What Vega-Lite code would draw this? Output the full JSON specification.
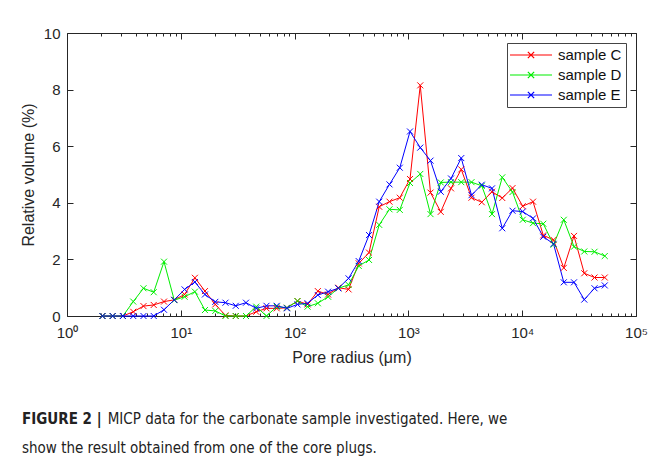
{
  "$schema": "https://vega.github.io/schema/vega-lite/v6.json",
  "width": 569,
  "height": 283,
  "autosize": {"type": "none"},
  "padding": {"left": 67, "top": 33, "right": 18, "bottom": 145},
  "background": "white",
  "config": {
    "view": {"stroke": "#262626", "strokeWidth": 1},
    "font": "Liberation Sans",
    "axis": {
      "domain": false, "grid": false,
      "tickColor": "#262626", "labelColor": "#262626", "titleColor": "#262626",
      "labelFont": "Liberation Sans", "titleFont": "Liberation Sans",
      "labelFontSize": 15, "titleFontSize": 16, "titleFontWeight": "normal"
    }
  },
  "title": {
    "text": "FIGURE 2 |",
    "subtitle": ["\u200b\u00a0\u00a0\u00a0\u00a0\u00a0\u00a0\u00a0\u00a0\u00a0\u00a0\u00a0\u00a0\u00a0\u00a0\u00a0\u00a0\u00a0\u00a0\u00a0\u00a0MICP data for the carbonate sample investigated. Here, we", "show the result obtained from one of the core plugs."],
    "orient": "bottom",
    "anchor": "start",
    "frame": "group",
    "dx": -45,
    "offset": 47,
    "font": "DejaVu Sans Condensed, sans-serif",
    "fontSize": 15,
    "fontWeight": "bold",
    "color": "#222222",
    "subtitleFont": "DejaVu Sans Condensed, sans-serif",
    "subtitleFontSize": 15,
    "subtitleFontWeight": "normal",
    "subtitleColor": "#222222",
    "subtitlePadding": -15,
    "subtitleLineHeight": 29
  },
  "datasets": {
    "micp": [
      {"r":2.05,"v":0,"s":"sample C"},{"r":2.52,"v":0,"s":"sample C"},{"r":3.10,"v":0,"s":"sample C"},{"r":3.82,"v":0.15,"s":"sample C"},{"r":4.70,"v":0.35,"s":"sample C"},
      {"r":5.78,"v":0.39,"s":"sample C"},{"r":7.12,"v":0.51,"s":"sample C"},{"r":8.76,"v":0.57,"s":"sample C"},{"r":10.8,"v":0.76,"s":"sample C"},{"r":13.3,"v":1.35,"s":"sample C"},
      {"r":16.3,"v":0.88,"s":"sample C"},{"r":20.1,"v":0.41,"s":"sample C"},{"r":24.7,"v":0.02,"s":"sample C"},{"r":30.4,"v":0,"s":"sample C"},{"r":37.4,"v":0,"s":"sample C"},
      {"r":46.0,"v":0.15,"s":"sample C"},{"r":56.6,"v":0.27,"s":"sample C"},{"r":69.7,"v":0.27,"s":"sample C"},{"r":85.7,"v":0.29,"s":"sample C"},{"r":106,"v":0.53,"s":"sample C"},
      {"r":130,"v":0.41,"s":"sample C"},{"r":160,"v":0.88,"s":"sample C"},{"r":197,"v":0.76,"s":"sample C"},{"r":242,"v":1.0,"s":"sample C"},{"r":298,"v":0.94,"s":"sample C"},
      {"r":366,"v":1.86,"s":"sample C"},{"r":451,"v":2.24,"s":"sample C"},{"r":554,"v":3.86,"s":"sample C"},{"r":682,"v":4.04,"s":"sample C"},{"r":840,"v":4.18,"s":"sample C"},
      {"r":1033,"v":4.84,"s":"sample C"},{"r":1271,"v":8.15,"s":"sample C"},{"r":1564,"v":4.36,"s":"sample C"},{"r":1924,"v":3.68,"s":"sample C"},{"r":2368,"v":4.51,"s":"sample C"},
      {"r":2914,"v":5.18,"s":"sample C"},{"r":3585,"v":4.18,"s":"sample C"},{"r":4412,"v":4.02,"s":"sample C"},{"r":5429,"v":4.39,"s":"sample C"},{"r":6680,"v":4.17,"s":"sample C"},
      {"r":8220,"v":4.52,"s":"sample C"},{"r":10110,"v":3.88,"s":"sample C"},{"r":12450,"v":4.04,"s":"sample C"},{"r":15320,"v":2.85,"s":"sample C"},{"r":18850,"v":2.69,"s":"sample C"},
      {"r":23190,"v":1.7,"s":"sample C"},{"r":28530,"v":2.83,"s":"sample C"},{"r":35110,"v":1.51,"s":"sample C"},{"r":43200,"v":1.36,"s":"sample C"},{"r":53170,"v":1.36,"s":"sample C"},

      {"r":2.05,"v":0,"s":"sample D"},{"r":2.52,"v":0,"s":"sample D"},{"r":3.10,"v":0,"s":"sample D"},{"r":3.82,"v":0.51,"s":"sample D"},{"r":4.70,"v":0.98,"s":"sample D"},
      {"r":5.78,"v":0.84,"s":"sample D"},{"r":7.12,"v":1.92,"s":"sample D"},{"r":8.76,"v":0.56,"s":"sample D"},{"r":10.8,"v":0.68,"s":"sample D"},{"r":13.3,"v":0.86,"s":"sample D"},
      {"r":16.3,"v":0.21,"s":"sample D"},{"r":20.1,"v":0.18,"s":"sample D"},{"r":24.7,"v":0,"s":"sample D"},{"r":30.4,"v":0,"s":"sample D"},{"r":37.4,"v":0,"s":"sample D"},
      {"r":46.0,"v":0.33,"s":"sample D"},{"r":56.6,"v":0,"s":"sample D"},{"r":69.7,"v":0.33,"s":"sample D"},{"r":85.7,"v":0.29,"s":"sample D"},{"r":106,"v":0.53,"s":"sample D"},
      {"r":130,"v":0.33,"s":"sample D"},{"r":160,"v":0.45,"s":"sample D"},{"r":197,"v":0.68,"s":"sample D"},{"r":242,"v":0.98,"s":"sample D"},{"r":298,"v":1.1,"s":"sample D"},
      {"r":366,"v":1.77,"s":"sample D"},{"r":451,"v":1.98,"s":"sample D"},{"r":554,"v":3.22,"s":"sample D"},{"r":682,"v":3.77,"s":"sample D"},{"r":840,"v":3.75,"s":"sample D"},
      {"r":1033,"v":4.7,"s":"sample D"},{"r":1271,"v":5.02,"s":"sample D"},{"r":1564,"v":3.6,"s":"sample D"},{"r":1924,"v":4.72,"s":"sample D"},{"r":2368,"v":4.73,"s":"sample D"},
      {"r":2914,"v":4.73,"s":"sample D"},{"r":3585,"v":4.73,"s":"sample D"},{"r":4412,"v":4.6,"s":"sample D"},{"r":5429,"v":3.6,"s":"sample D"},{"r":6680,"v":4.9,"s":"sample D"},
      {"r":8220,"v":4.38,"s":"sample D"},{"r":10110,"v":3.4,"s":"sample D"},{"r":12450,"v":3.28,"s":"sample D"},{"r":15320,"v":3.26,"s":"sample D"},{"r":18850,"v":2.52,"s":"sample D"},
      {"r":23190,"v":3.4,"s":"sample D"},{"r":28530,"v":2.45,"s":"sample D"},{"r":35110,"v":2.28,"s":"sample D"},{"r":43200,"v":2.27,"s":"sample D"},{"r":53170,"v":2.12,"s":"sample D"},

      {"r":2.05,"v":0,"s":"sample E"},{"r":2.52,"v":0,"s":"sample E"},{"r":3.10,"v":0,"s":"sample E"},{"r":3.82,"v":0,"s":"sample E"},{"r":4.70,"v":0,"s":"sample E"},
      {"r":5.78,"v":0,"s":"sample E"},{"r":7.12,"v":0.22,"s":"sample E"},{"r":8.76,"v":0.57,"s":"sample E"},{"r":10.8,"v":0.94,"s":"sample E"},{"r":13.3,"v":1.2,"s":"sample E"},
      {"r":16.3,"v":0.76,"s":"sample E"},{"r":20.1,"v":0.5,"s":"sample E"},{"r":24.7,"v":0.47,"s":"sample E"},{"r":30.4,"v":0.36,"s":"sample E"},{"r":37.4,"v":0.47,"s":"sample E"},
      {"r":46.0,"v":0.27,"s":"sample E"},{"r":56.6,"v":0.36,"s":"sample E"},{"r":69.7,"v":0.36,"s":"sample E"},{"r":85.7,"v":0.27,"s":"sample E"},{"r":106,"v":0.41,"s":"sample E"},
      {"r":130,"v":0.45,"s":"sample E"},{"r":160,"v":0.74,"s":"sample E"},{"r":197,"v":0.86,"s":"sample E"},{"r":242,"v":0.98,"s":"sample E"},{"r":298,"v":1.33,"s":"sample E"},
      {"r":366,"v":1.94,"s":"sample E"},{"r":451,"v":2.86,"s":"sample E"},{"r":554,"v":4.04,"s":"sample E"},{"r":682,"v":4.65,"s":"sample E"},{"r":840,"v":5.24,"s":"sample E"},
      {"r":1033,"v":6.52,"s":"sample E"},{"r":1271,"v":5.95,"s":"sample E"},{"r":1564,"v":5.49,"s":"sample E"},{"r":1924,"v":4.39,"s":"sample E"},{"r":2368,"v":4.86,"s":"sample E"},
      {"r":2914,"v":5.58,"s":"sample E"},{"r":3585,"v":4.27,"s":"sample E"},{"r":4412,"v":4.64,"s":"sample E"},{"r":5429,"v":4.51,"s":"sample E"},{"r":6680,"v":3.1,"s":"sample E"},
      {"r":8220,"v":3.72,"s":"sample E"},{"r":10110,"v":3.69,"s":"sample E"},{"r":12450,"v":3.45,"s":"sample E"},{"r":15320,"v":2.8,"s":"sample E"},{"r":18850,"v":2.55,"s":"sample E"},
      {"r":23190,"v":1.19,"s":"sample E"},{"r":28530,"v":1.19,"s":"sample E"},{"r":35110,"v":0.58,"s":"sample E"},{"r":43200,"v":0.98,"s":"sample E"},{"r":53170,"v":1.08,"s":"sample E"}
    ]
  },
  "data": {"name": "micp"},
  "resolve": {"axis": {"x": "independent", "y": "independent"}},
  "layer": [
    {
      "mark": {"type": "line", "strokeWidth": 1},
      "encoding": {
        "x": {"field": "r", "type": "quantitative",
              "scale": {"type": "log", "domain": [1, 100000], "nice": false},
              "axis": {"orient": "bottom", "values": [1, 10, 100, 1000, 10000, 100000],
                       "labelExpr": "'10' + ['⁰','¹','²','³','⁴','⁵'][round(log(datum.value)/LN10)]",
                       "tickSize": -6, "labelPadding": 15, "title": "Pore radius (μm)", "titlePadding": 9, "labelFlush": false}},
        "y": {"field": "v", "type": "quantitative",
              "scale": {"domain": [0, 10], "nice": false},
              "axis": {"orient": "left", "values": [0, 2, 4, 6, 8, 10], "tickSize": -6, "labelPadding": 13,
                       "title": "Relative volume (%)", "titlePadding": 7}},
        "color": {"field": "s", "type": "nominal",
                  "scale": {"domain": ["sample C", "sample D", "sample E"], "range": ["#ff0000", "#00ee00", "#0000ff"]},
                  "legend": {"title": null, "orient": "top-right", "offset": 10,
                             "symbolType": "M-3,0L3,0M-0.45,-0.45L0.45,0.45M-0.45,0.45L0.45,-0.45",
                             "symbolSize": 196, "symbolStrokeWidth": 1.2, "symbolOffset": 12,
                             "labelFontSize": 15, "labelFont": "Liberation Sans", "labelColor": "#111111", "labelOffset": 19,
                             "strokeColor": "#444444", "fillColor": "white", "padding": 4, "rowPadding": 4,
                             "encode": {"symbols": {"enter": {"stroke": {"scale": "color", "field": "value"}}, "update": {"stroke": {"scale": "color", "field": "value"}, "strokeOpacity": {"value": 1}, "opacity": {"value": 1}}}}}}
      }
    },
    {
      "mark": {"type": "point", "shape": "M-1,-1L1,1M-1,1L1,-1", "filled": false, "size": 36, "strokeWidth": 1, "opacity": 1},
      "encoding": {
        "x": {"field": "r", "type": "quantitative", "axis": null},
        "y": {"field": "v", "type": "quantitative", "axis": null},
        "color": {"field": "s", "type": "nominal", "legend": null}
      }
    },
    {
      "mark": {"type": "point", "opacity": 0},
      "encoding": {
        "x": {"field": "r", "type": "quantitative",
              "axis": {"orient": "bottom", "values": [2,3,4,5,6,7,8,9,20,30,40,50,60,70,80,90,200,300,400,500,600,700,800,900,2000,3000,4000,5000,6000,7000,8000,9000,20000,30000,40000,50000,60000,70000,80000,90000],
                       "labels": false, "tickSize": -3, "title": null}},
        "y": {"field": "v", "type": "quantitative",
              "axis": {"orient": "right", "values": [0, 2, 4, 6, 8, 10], "labels": false, "tickSize": -6, "title": null}}
      }
    },
    {
      "mark": {"type": "point", "opacity": 0},
      "encoding": {
        "x": {"field": "r", "type": "quantitative",
              "axis": {"orient": "top", "values": [1, 10, 100, 1000, 10000, 100000], "labels": false, "tickSize": -6, "title": null}},
        "y": {"field": "v", "type": "quantitative", "axis": null}
      }
    },
    {
      "mark": {"type": "point", "opacity": 0},
      "encoding": {
        "x": {"field": "r", "type": "quantitative",
              "axis": {"orient": "top", "values": [2,3,4,5,6,7,8,9,20,30,40,50,60,70,80,90,200,300,400,500,600,700,800,900,2000,3000,4000,5000,6000,7000,8000,9000,20000,30000,40000,50000,60000,70000,80000,90000],
                       "labels": false, "tickSize": -3, "title": null}},
        "y": {"field": "v", "type": "quantitative", "axis": null}
      }
    }
  ]
}
